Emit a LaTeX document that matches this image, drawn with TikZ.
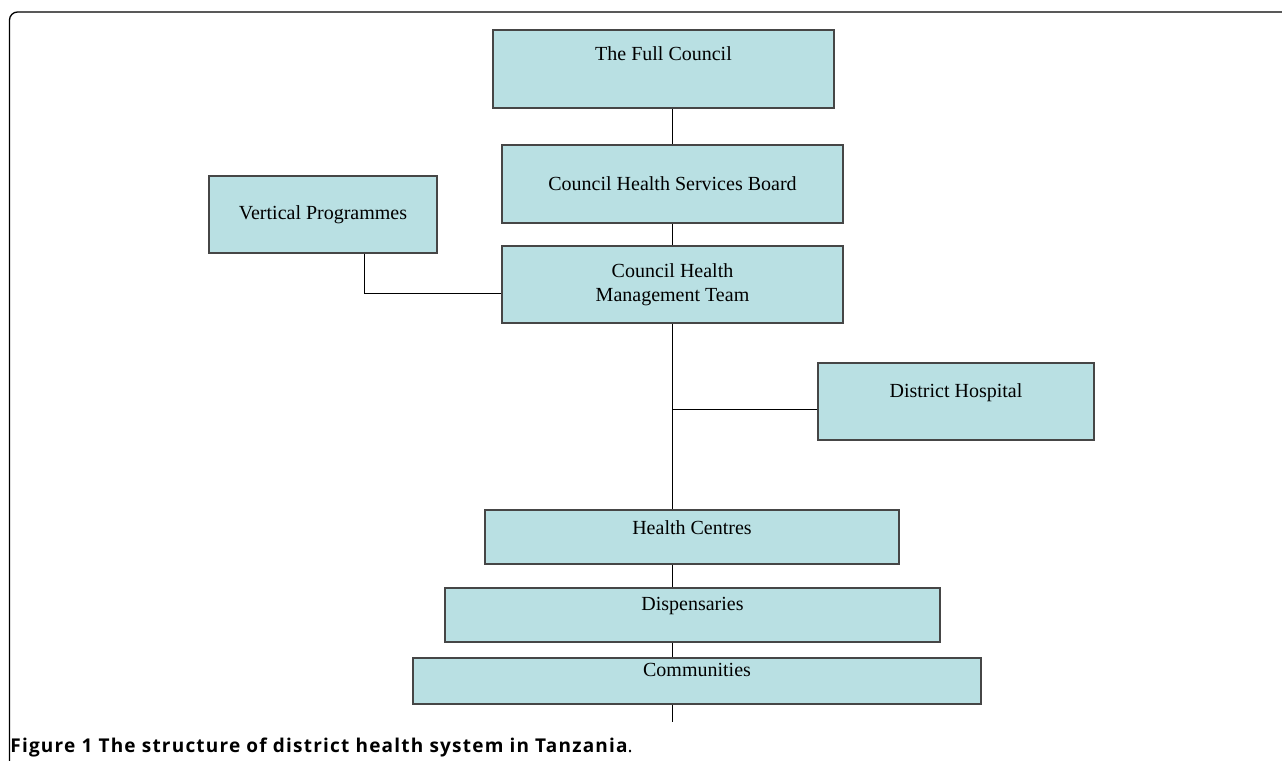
\documentclass[tikz,border=0pt]{standalone}
\usepackage{fontspec}
\setmainfont{Liberation Serif}
\newfontfamily\capfont[LetterSpace=6.4]{Open Sans}
\definecolor{boxfill}{RGB}{185,224,227}
\definecolor{boxline}{RGB}{70,70,70}
\begin{document}
\begin{tikzpicture}[x=0.5pt, y=-0.5pt,
    box/.style={draw=boxline, fill=boxfill, line width=0.75pt, align=center},
    topbox/.style 2 args={box, anchor=north, inner ysep=0pt, text height=#1, text depth=#2},
    link/.style={line width=0.5pt}]
        \useasboundingbox (0,0) rectangle (1282,761);
        % Cornice
        \draw[line width=0.65pt, rounded corners=4pt] (9.5,761) -- (9.5,12) -- (1282,12);
        % Riquadri
        \node[topbox={15.25pt}{23.75pt}, minimum width=170.5pt] (fc) at (663.5,29) {The Full Council};
        \node[box, minimum width=170.5pt, minimum height=39pt] (chsb) at (672.5,184) {Council Health Services Board};
        \node[box, minimum width=114pt, minimum height=38.5pt] (vp) at (323,214.5) {Vertical Programmes};
        \node[box, minimum width=170.5pt, minimum height=38.5pt] (chmt) at (672.5,284.5) {Council Health\\ Management Team};
        \node[topbox={17.25pt}{21.25pt}, minimum width=138pt] (dh) at (956,362) {District Hospital};
        \node[topbox={12.25pt}{14.75pt}, minimum width=207pt] (hc) at (692,509) {Health Centres};
        \node[topbox={11.25pt}{15.75pt}, minimum width=247.5pt] (disp) at (692.5,587) {Dispensaries};
        \node[topbox={9.25pt}{13.75pt}, minimum width=284pt] (comm) at (697,657) {Communities};
        \coordinate (fine) at (672.5,722);
        % Collegamenti
        \draw[link] (chsb.north) -- (chsb.north |- fc.south);
        \draw[link] (chsb.south) -- (chmt.north);
        \draw[link] (chmt.south) -- (chmt.south |- hc.north);
        \draw[link] (chmt.south |- hc.south) -- (chmt.south |- disp.north);
        \draw[link] (chmt.south |- disp.south) -- (chmt.south |- comm.north);
        \draw[link] (chmt.south |- comm.south) -- (fine);
        \draw[link] ([yshift=-4.25pt]dh.west) -- ([yshift=-4.25pt]dh.west -| chmt.south);
        \draw[link] ([xshift=20.5pt]vp.south) |- ([yshift=-4.25pt]chmt.west);
        % Didascalia
        \node[anchor=base west, inner sep=0pt, font=\capfont\fontsize{9.5}{11}\selectfont] (cap) at (10,752)
            {\bfseries Figure 1 The structure of district health system in Tanzania\mdseries.};
    \end{tikzpicture}
\end{document}
